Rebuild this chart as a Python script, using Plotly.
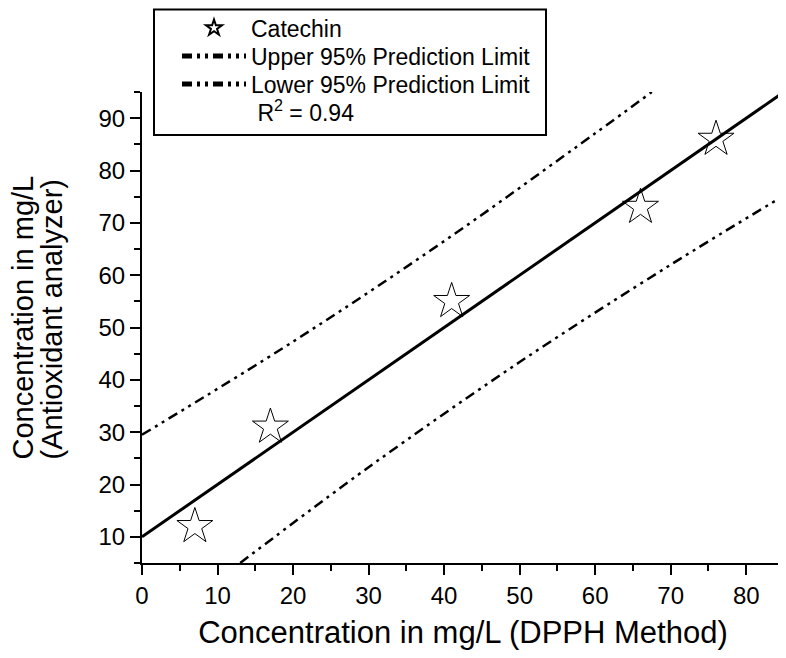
import plotly.graph_objects as go

# Data
cat_x = [7, 17, 41, 66, 76]
cat_y = [12, 31, 55, 73, 86]

fit_x = [0, 85]
fit_y = [10, 95]

upper_x = [0, 20, 40, 60, 67.5]
upper_y = [29.5, 47.3, 66.5, 87.1, 95]

lower_x = [13, 30, 50, 70, 85]
lower_y = [5, 23.3, 43.4, 62.0, 75.2]

r2_label = "\u00a0R<sup>2</sup> = 0.94"

FONT = "Liberation Sans, Arial, sans-serif"
DASH = "10px,5px,3px,5px,3px,5px"

# page has an 8px body margin; figure sized to fit the 786x658 window
OFF = 8
W, H = 786 - OFF, 658 - 2 * OFF
L, T = 142 - OFF, 92 - OFF
R = W - (784 - OFF)
B = H - (563 - OFF)
PW, PH = W - L - R, H - T - B


def px_x(p):
    return (p - OFF - L) / PW


def px_y(p):
    return (H - B - (p - OFF)) / PH


fig = go.Figure()

fig.add_trace(go.Scatter(
    x=cat_x, y=cat_y, mode="markers", name="Catechin", legend="legend",
    marker=dict(symbol="star-open", size=27, color="black", line=dict(width=1, color="black")),
))
fig.add_trace(go.Scatter(
    x=upper_x, y=upper_y, mode="lines", name="Upper 95% Prediction Limit", legend="legend2",
    line=dict(color="black", width=2.5, dash=DASH, shape="spline"),
))
fig.add_trace(go.Scatter(
    x=lower_x, y=lower_y, mode="lines", name="Lower 95% Prediction Limit", legend="legend3",
    line=dict(color="black", width=2.5, dash=DASH, shape="spline"),
))
fig.add_trace(go.Scatter(
    x=fit_x, y=fit_y, mode="lines", name="Linear fit", showlegend=False,
    line=dict(color="black", width=3),
))
fig.add_trace(go.Scatter(
    x=[None], y=[None], mode="markers", name=r2_label, legend="legend4",
    marker=dict(color="rgba(0,0,0,0)", size=1),
))

axis_common = dict(
    showline=True, linecolor="black", linewidth=2,
    ticks="outside", ticklen=10, tickwidth=2, tickcolor="black",
    showgrid=False, zeroline=False, mirror=False, automargin=False,
    tickfont=dict(family=FONT, size=24, color="black"),
    minor=dict(ticks="outside", ticklen=6, tickwidth=2, tickcolor="black", dtick=5, showgrid=False),
)

fig.update_xaxes(
    range=[0, 85], dtick=10, tick0=0, **axis_common,
    title=dict(text="Concentration in mg/L (DPPH Method)",
               font=dict(family=FONT, size=31, color="black"), standoff=16),
)
fig.update_yaxes(
    range=[5, 95], dtick=10, tick0=0, **axis_common,
)

fig.add_annotation(
    text="Concentration in mg/L", xref="paper", yref="paper", x=0, y=0.5,
    xanchor="center", yanchor="middle", textangle=-90, showarrow=False,
    xshift=-120, yshift=10, font=dict(family=FONT, size=29, color="black"),
)
fig.add_annotation(
    text="(Antioxidant analyzer)", xref="paper", yref="paper", x=0, y=0.5,
    xanchor="center", yanchor="middle", textangle=-90, showarrow=False,
    xshift=-91, yshift=8, font=dict(family=FONT, size=29, color="black"),
)

# legend frame
fig.add_shape(type="rect", xref="paper", yref="paper",
              x0=px_x(154), x1=px_x(546), y0=px_y(135), y1=px_y(OFF + 1.5),
              line=dict(color="black", width=2), fillcolor="white", layer="below")

leg_common = dict(
    xanchor="left", yanchor="middle",
    bgcolor="rgba(0,0,0,0)", borderwidth=0,
    font=dict(family=FONT, size=23, color="black"),
    itemsizing="constant", itemwidth=64,
)

LX = 211 - 34

fig.update_layout(
    width=W, height=H,
    margin=dict(l=L, r=R, t=T, b=B, autoexpand=False),
    paper_bgcolor="white", plot_bgcolor="white",
    font=dict(family=FONT, color="black"),
    showlegend=True,
    legend=dict(x=px_x(LX), y=px_y(28), **leg_common),
    legend2=dict(x=px_x(LX), y=px_y(56), **leg_common),
    legend3=dict(x=px_x(LX), y=px_y(84), **leg_common),
    legend4=dict(x=px_x(LX), y=px_y(112), **leg_common),
)

fig.write_html("out.html")
